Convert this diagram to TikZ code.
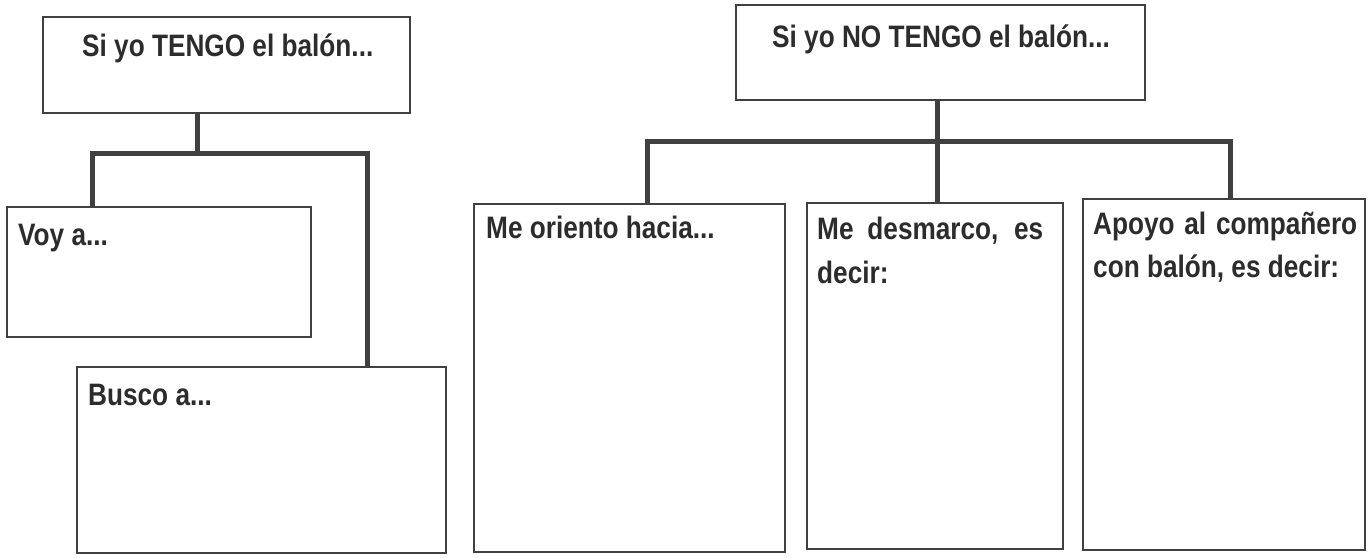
\documentclass[tikz,border=0pt]{standalone}
\usepackage{fontspec}
\newfontfamily\labfont[FakeStretch=0.845]{Liberation Sans}
\definecolor{ink}{HTML}{2c2c2c}
\definecolor{linec}{HTML}{404040}
\begin{document}
\begin{tikzpicture}[x=1pt,y=-1pt,
  box/.style={draw=linec, line width=2.8pt, fill=white, rectangle, inner sep=0pt, outer sep=0pt, anchor=north west},
  lab/.style={anchor=base west, inner sep=0pt, text=ink, font=\labfont\bfseries\fontsize{31pt}{43pt}\selectfont},
  conn/.style={draw=linec, line width=5pt, line join=miter}]
\fill[white] (0,0) rectangle (1370,557);
\useasboundingbox (0,0) rectangle (1370,557);
% boxes
\node[box, minimum width=367pt, minimum height=96pt]  (tl)  at (43,17)   {};
\node[box, minimum width=409pt, minimum height=95pt]  (tr)  at (736,5)   {};
\node[box, minimum width=304pt, minimum height=130pt] (voy) at (7,207)   {};
\node[box, minimum width=369pt, minimum height=186pt] (bus) at (77,367)  {};
\node[box, minimum width=311pt, minimum height=348pt] (ori) at (474,204) {};
\node[box, minimum width=256pt, minimum height=346pt] (des) at (807,203) {};
\node[box, minimum width=282pt, minimum height=351pt] (apo) at (1083,199) {};
% connector coordinates
\coordinate (jL) at (197,153);
\coordinate (hL1) at (92,153);
\coordinate (hL2) at (367,153);
\coordinate (jR) at (937,141);
\coordinate (hR1) at (647,141);
\coordinate (hR3) at (1230,141);
% connectors
\draw[conn] (tl.south -| jL) -- (jL);
\draw[conn] (voy.north -| hL1) -- (hL1) -- (hL2) -- (bus.north -| hL2);
\draw[conn] (tr.south -| jR) -- (jR) -- (des.north -| jR);
\draw[conn] (ori.north -| hR1) -- (hR1) -- (hR3) -- (apo.north -| hR3);
% texts
\node[lab] (tlT)   at (82,56)    {Si yo TENGO el balón...};
\node[lab] (trT)   at (772,47)   {Si yo NO TENGO el balón...};
\node[lab] (voyT)  at (18,245)   {Voy a...};
\node[lab] (busT)  at (88,405)   {Busco a...};
\node[lab] (oriT)  at (486,238)  {Me oriento hacia...};
\node[lab] (desT1) at (817,239)  {\makebox[226pt][s]{Me desmarco, es}};
\node[lab] (desT2) at (817,283)  {decir:};
\node[lab] (apoT1) at (1093,234) {\makebox[264pt][s]{Apoyo al compañero}};
\node[lab] (apoT2) at (1093,277) {con balón, es decir:};
\end{tikzpicture}
\end{document}
